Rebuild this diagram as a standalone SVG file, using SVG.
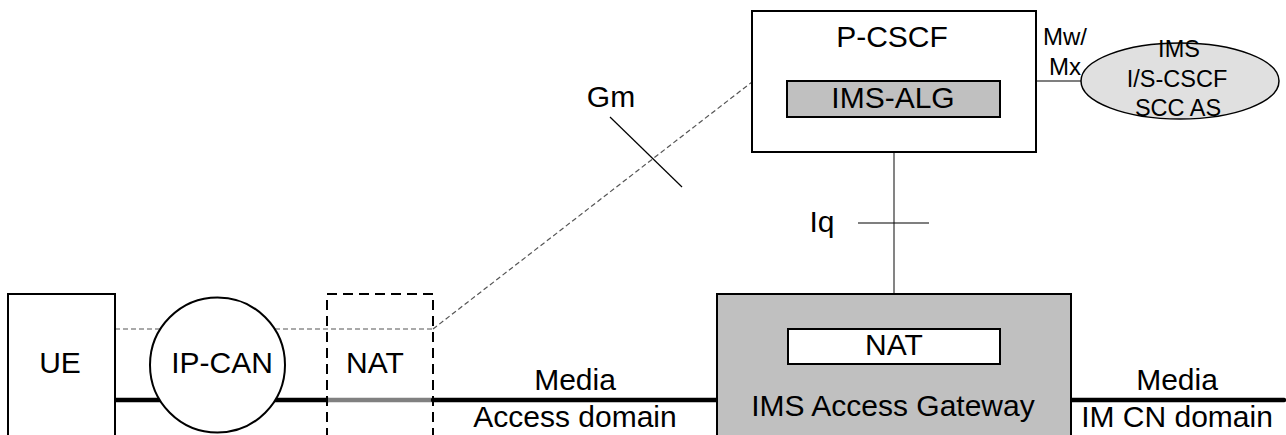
<svg xmlns="http://www.w3.org/2000/svg" width="1286" height="435" viewBox="0 0 1286 435">
<style>
text{font-family:"Liberation Sans",Arial,sans-serif;font-size:30px;fill:#000}
.m{text-anchor:middle}
.s{font-size:24px}
.e{font-size:23.5px}
.box{fill:#fff;stroke:#000;stroke-width:2}
.grey{fill:#c0c0c0;stroke:#000;stroke-width:2}
.thin{stroke:#000;stroke-width:1.2;fill:none}
.dash{stroke:#555;stroke-width:1.2;stroke-dasharray:5,3;fill:none}
.media{stroke:#000;stroke-width:4.5;stroke-linecap:round;fill:none}
</style>
<g id="connectors">
<line class="dash" x1="115" y1="329" x2="433" y2="329" stroke="#777"/>
<line class="dash" x1="433" y1="329" x2="752" y2="82"/>
<line class="thin" x1="610" y1="117" x2="682" y2="187"/>
<line x1="894" y1="117" x2="894" y2="294" stroke="#777" stroke-width="1.8"/>
<line class="thin" x1="858" y1="223" x2="929" y2="223"/>
<line class="thin" x1="1036" y1="81" x2="1082" y2="81"/>
<line class="media" x1="115" y1="400" x2="328" y2="400"/>
<line x1="328" y1="400" x2="433" y2="400" stroke="#808080" stroke-width="4.5"/>
<line class="media" x1="433" y1="400" x2="717" y2="400"/>
<line class="media" x1="1071" y1="400" x2="1284" y2="400"/>
<text x="611" y="107" class="m">Gm</text>
<text x="822" y="232" class="m">Iq</text>
<text x="1065" y="45" class="m s">Mw/</text>
<text x="1065" y="75" class="m s">Mx</text>
<text x="575" y="390" class="m">Media</text>
<text x="575" y="427" class="m">Access domain</text>
<text x="1177" y="390" class="m">Media</text>
<text x="1177" y="427" class="m">IM CN domain</text>
</g>
<g id="ue">
<rect class="box" x="8" y="294" width="107" height="150"/>
<text x="60" y="373" class="m">UE</text>
</g>
<g id="ipcan">
<circle class="box" cx="217.5" cy="365" r="67.5"/>
<text x="222" y="373" class="m">IP-CAN</text>
</g>
<g id="nat1">
<rect x="327" y="294" width="106" height="150" fill="none" stroke="#000" stroke-width="2" stroke-dasharray="10,6"/>
<text x="375" y="373" class="m">NAT</text>
</g>
<g id="pcscf">
<rect class="box" x="752" y="11" width="284" height="141"/>
<text x="892" y="47" class="m">P-CSCF</text>
<rect class="grey" x="787" y="81" width="213" height="36"/>
<text x="893" y="108" class="m">IMS-ALG</text>
</g>
<g id="ims">
<ellipse cx="1180" cy="81" rx="99" ry="38" fill="#e0e0e0" stroke="#000" stroke-width="1.5"/>
<text x="1179" y="57" class="m e">IMS</text>
<text x="1177" y="87" class="m e">I/S-CSCF</text>
<text x="1178" y="116" class="m e">SCC AS</text>
</g>
<g id="gateway">
<rect class="grey" x="717" y="294" width="354" height="150"/>
<rect class="box" x="788" y="329" width="212" height="35"/>
<text x="894" y="355" class="m">NAT</text>
<text x="893" y="416" class="m">IMS Access Gateway</text>
</g>
</svg>
